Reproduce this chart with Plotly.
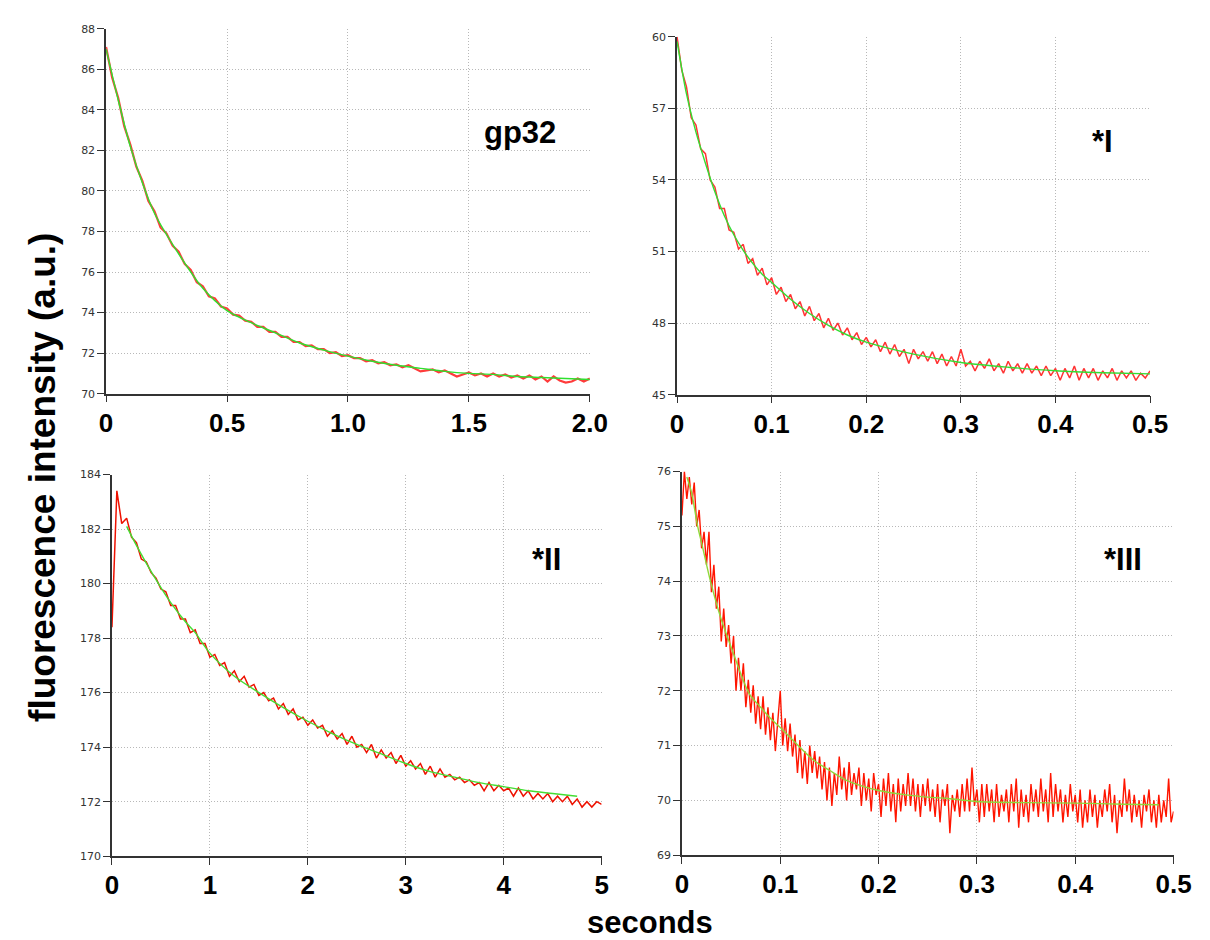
import plotly.graph_objects as go

W, H = 1210, 940


def fx(px):
    return px / W


def fy(py):
    return 1 - py / H


# ---------------- Panel 1: gp32 (0 - 2.0 s) ----------------
gp32_step = 0.025
gp32_red = [87.1, 85.6, 84.6, 83.2, 82.3, 81.2, 80.5, 79.5, 79.0, 78.2,
            77.9, 77.3, 77.0, 76.4, 76.1, 75.5, 75.3, 74.8, 74.7, 74.3,
            74.2, 73.9, 73.85, 73.6, 73.55, 73.3, 73.3, 73.05, 73.05, 72.8,
            72.8, 72.55, 72.55, 72.35, 72.38, 72.2, 72.2, 72.0, 72.05, 71.85,
            71.9, 71.75, 71.75, 71.6, 71.65, 71.5, 71.55, 71.4, 71.45, 71.3,
            71.4, 71.25, 71.1, 71.15, 71.2, 71.05, 71.15, 71.0, 70.85, 70.95,
            71.05, 70.9, 71.0, 70.85, 71.0, 70.85, 70.95, 70.8, 70.9, 70.75,
            70.9, 70.7, 70.85, 70.6, 70.85, 70.65, 70.55, 70.6, 70.75, 70.6,
            70.75]
gp32_fit_t = [0, 0.05, 0.1, 0.15, 0.2, 0.3, 0.4, 0.5, 0.6, 0.7, 0.8, 0.9, 1.0,
              1.1, 1.2, 1.3, 1.4, 1.5, 1.6, 1.7, 1.8, 1.9, 2.0]
gp32_fit = [87.0, 84.5, 82.2, 80.4, 78.9, 76.9, 75.2, 74.1, 73.5, 73.0, 72.5,
            72.15, 71.85, 71.6, 71.4, 71.25, 71.1, 71.0, 70.95, 70.85, 70.8,
            70.75, 70.7]

# ---------------- Panel 2: *I (0 - 0.5 s) ----------------
p1_step = 0.005
p1_red = [60.0, 58.6, 57.9, 56.6, 56.3, 55.3, 55.1, 54.0, 53.7, 52.8,
          52.8, 51.9, 51.8, 51.1, 51.3, 50.5, 50.7, 50.0, 50.3, 49.6,
          49.9, 49.2, 49.5, 48.9, 49.2, 48.6, 48.9, 48.3, 48.7, 48.1,
          48.4, 47.8, 48.2, 47.7, 48.0, 47.5, 47.8, 47.3, 47.6, 47.1,
          47.4, 47.0, 47.3, 46.8, 47.2, 46.7, 47.1, 46.6, 46.9, 46.3,
          46.9, 46.5, 46.8, 46.4, 46.8, 46.3, 46.7, 46.2, 46.6, 46.2,
          46.9, 46.2, 46.4, 46.0, 46.4, 46.1, 46.5, 46.0, 46.3, 45.9,
          46.4, 46.0, 46.3, 45.9, 46.3, 45.9, 46.2, 45.8, 46.2, 45.8,
          46.1, 45.6, 46.1, 45.7, 46.2, 45.6, 46.1, 45.7, 46.1, 45.6,
          46.0, 45.7, 46.1, 45.6, 46.0, 45.7, 46.0, 45.6, 45.9, 45.7,
          46.0]
p1_fit_t = [0, 0.01, 0.02, 0.03, 0.04, 0.05, 0.06, 0.07, 0.08, 0.09, 0.1,
            0.12, 0.14, 0.16, 0.18, 0.2, 0.25, 0.3, 0.35, 0.4, 0.45, 0.5]
p1_fit = [59.8, 57.6, 56.0, 54.7, 53.5, 52.5, 51.7, 51.05, 50.5, 50.05, 49.7,
          49.0, 48.4, 47.9, 47.5, 47.2, 46.7, 46.35, 46.15, 46.0, 45.92, 45.87]

# ---------------- Panel 3: *II (0 - 5 s) ----------------
p2_step = 0.05
p2_red = [178.4, 183.4, 182.2, 182.4, 181.7, 181.5, 180.9, 180.8, 180.4, 180.2,
          179.8, 179.7, 179.2, 179.2, 178.7, 178.7, 178.2, 178.3, 177.8, 177.8,
          177.3, 177.4, 177.0, 177.1, 176.6, 176.8, 176.4, 176.6, 176.2, 176.3,
          175.9, 176.0, 175.7, 175.8, 175.4, 175.6, 175.2, 175.4, 175.0, 175.1,
          174.8, 175.0, 174.7, 174.8, 174.4, 174.6, 174.3, 174.5, 174.1, 174.4,
          174.0, 174.1, 173.8, 174.1, 173.6, 173.9, 173.6, 173.8, 173.4, 173.7,
          173.3, 173.5, 173.2, 173.4, 173.0, 173.3, 172.9, 173.2, 172.9, 173.0,
          172.8, 172.9, 172.7, 172.8, 172.6, 172.7, 172.4, 172.7, 172.4, 172.6,
          172.4, 172.5, 172.2, 172.5, 172.2, 172.4, 172.1, 172.3, 172.1, 172.3,
          172.0, 172.2, 172.0, 172.2, 171.9, 172.1, 171.8, 172.0, 171.8, 172.0,
          171.9]
p2_fit_t = [0.15, 0.25, 0.35, 0.5, 0.6, 0.75, 0.85, 1.0, 1.25, 1.5, 1.75, 2.0,
            2.25, 2.5, 2.75, 3.0, 3.25, 3.5, 3.75, 4.0, 4.25, 4.5, 4.75]
p2_fit = [182.1, 181.4, 180.75, 179.85, 179.3, 178.6, 178.2, 177.45, 176.6,
          176.0, 175.45, 174.95, 174.5, 174.1, 173.75, 173.4, 173.1, 172.9,
          172.7, 172.55, 172.4, 172.3, 172.2]

# ---------------- Panel 4: *III (0 - 0.5 s) ----------------
p3_step = 0.0025
p3_red = [75.2, 76.0, 75.5, 75.9, 75.4, 75.8, 75.0, 75.3, 74.6, 74.9,
          74.3, 74.9, 73.8, 74.3, 73.5, 73.9, 72.9, 73.5, 72.8, 73.2,
          72.5, 73.0, 72.0, 72.6, 72.0, 72.5, 71.7, 72.2, 71.6, 72.1,
          71.4, 71.9, 71.3, 71.9, 71.2, 71.7, 71.1, 71.6, 70.9, 71.5,
          72.0, 71.0, 71.5, 70.9, 71.4, 70.8, 71.2, 70.5, 71.1, 70.4,
          70.9, 70.3, 71.0, 70.5, 70.9, 70.4, 70.8, 70.2, 70.7, 70.0,
          70.6, 69.9, 70.5, 70.1, 70.8, 70.2, 70.6, 70.0, 70.7, 70.1,
          70.5, 70.2, 70.6, 69.9, 70.5, 70.0, 70.4, 69.8, 70.5, 70.1,
          70.3, 69.7, 70.4, 69.9, 70.5, 69.8, 70.3, 69.6, 70.4, 69.8,
          70.3, 69.9, 70.5, 69.9, 70.4, 69.8, 70.3, 69.7, 70.3, 69.9,
          70.4, 69.8, 70.2, 69.7, 70.3, 69.6, 70.2, 69.9, 70.3, 69.4,
          70.1, 69.8, 70.2, 69.7, 70.3, 69.8, 70.4, 69.8, 70.6, 69.9,
          70.2, 69.6, 70.3, 69.7, 70.3, 69.8, 70.2, 69.6, 70.3, 69.7,
          70.1, 69.8, 70.2, 69.6, 70.3, 69.8, 70.4, 69.5, 70.2, 69.7,
          70.1, 69.6, 70.3, 69.8, 70.2, 69.7, 70.4, 69.8, 70.2, 69.6,
          70.5, 69.7, 70.3, 69.8, 70.2, 69.6, 70.1, 69.7, 70.3, 69.8,
          70.1, 69.6, 70.2, 69.5, 70.0, 69.6, 70.2, 69.7, 70.1, 69.5,
          70.0, 69.7, 70.2, 69.8, 70.3, 69.6, 70.1, 69.4, 70.0, 69.7,
          70.4, 69.8, 70.2, 69.6, 70.1, 69.7, 70.0, 69.5, 70.1, 69.8,
          70.2, 69.6, 70.0, 69.5, 70.1, 69.6, 70.0, 69.7, 70.4, 69.6,
          69.8]
p3_fit_t = [0.005, 0.01, 0.016, 0.02, 0.029, 0.04, 0.052, 0.06, 0.069, 0.08,
            0.09, 0.1, 0.12, 0.135, 0.15, 0.168, 0.185, 0.2, 0.228, 0.25,
            0.268, 0.3, 0.35, 0.4, 0.45, 0.485]
p3_fit = [75.9, 75.6, 75.0, 74.7, 74.0, 73.3, 72.7, 72.3, 71.93, 71.7, 71.5,
          71.33, 70.97, 70.72, 70.55, 70.36, 70.25, 70.18, 70.1, 70.06, 70.04,
          69.98, 69.96, 69.95, 69.93, 69.92]

# tick labels
x_ticks_1 = [0, 0.5, 1.0, 1.5, 2.0]
x_text_1 = ["0", "0.5", "1.0", "1.5", "2.0"]
x_ticks_2 = [0, 0.1, 0.2, 0.3, 0.4, 0.5]
x_text_2 = ["0", "0.1", "0.2", "0.3", "0.4", "0.5"]
x_ticks_3 = [0, 1, 2, 3, 4, 5]
x_text_3 = ["0", "1", "2", "3", "4", "5"]

panel_labels = ["gp32", "*I", "*II", "*III"]

# ---------------- layout geometry (pixels in the 1210x940 page) ----------------
panels = [
    dict(px=(93, 587), py=(15, 385), xr=[0, 2.0], yr=[70, 88], ydt=2,
         red=gp32_red, step=gp32_step, ft=gp32_fit_t, fv=gp32_fit, rw=2.2,
         xt=x_ticks_1, xtt=x_text_1, rc="#ff3b3b", gc="#2fe02f", lab=(516, 120)),
    dict(px=(676, 1159), py=(23, 386), xr=[0, 0.5], yr=[45, 60], ydt=3,
         red=p1_red, step=p1_step, ft=p1_fit_t, fv=p1_fit, rw=1.5,
         xt=x_ticks_2, xtt=x_text_2, rc="#ff3333", gc="#33dd33", lab=(1110, 129)),
    dict(px=(99, 599), py=(467, 854), xr=[0, 5], yr=[170, 184], ydt=2,
         red=p2_red, step=p2_step, ft=p2_fit_t, fv=p2_fit, rw=1.5,
         xt=x_ticks_3, xtt=x_text_3, rc="#ee1100", gc="#44dd33", lab=(543, 553)),
    dict(px=(681, 1183), py=(464, 853), xr=[0, 0.5], yr=[69, 76], ydt=1,
         red=p3_red, step=p3_step, ft=p3_fit_t, fv=p3_fit, rw=1.4,
         xt=x_ticks_2, xtt=x_text_2, rc="#ff1500", gc="#8fd83a", lab=(1131, 553)),
]

fig = go.Figure()
annotations = []
for i, p in enumerate(panels):
    n = "" if i == 0 else str(i + 1)
    xa, ya = "x" + n, "y" + n
    t = [round(k * p["step"], 5) for k in range(len(p["red"]))]
    fig.add_trace(go.Scatter(x=t, y=p["red"], mode="lines", xaxis=xa, yaxis=ya,
                             line=dict(color=p["rc"], width=p["rw"]), showlegend=False,
                             hoverinfo="skip"))
    fig.add_trace(go.Scatter(x=p["ft"], y=p["fv"], mode="lines", xaxis=xa, yaxis=ya,
                             line=dict(color=p["gc"], width=1.4, shape="spline",
                                       smoothing=0.8),
                             showlegend=False, hoverinfo="skip"))
    xdom = [fx(p["px"][0]), fx(p["px"][1])]
    ydom = [fy(p["py"][1]), fy(p["py"][0])]
    common = dict(showgrid=True, gridcolor="#b8b8b8", griddash="1px,2px", gridwidth=1,
                  zeroline=False, showline=True, linecolor="#333333", linewidth=1.5,
                  ticks="outside", ticklen=7, tickcolor="#333333", tickwidth=1.2)
    fig.layout["xaxis" + n] = dict(domain=xdom, range=p["xr"], anchor=ya,
                                   tickvals=p["xt"], ticktext=p["xtt"],
                                   tickfont=dict(family="Liberation Sans", size=26,
                                                 color="#000000", weight="bold"),
                                   ticklabelstandoff=-2, **common)
    yticks = list(range(p["yr"][0], p["yr"][1] + 1, p["ydt"]))
    fig.layout["yaxis" + n] = dict(domain=ydom, range=p["yr"], anchor=xa,
                                   tickvals=yticks, ticktext=[str(v) for v in yticks],
                                   tickfont=dict(family="DejaVu Sans", size=11,
                                                 color="#333333"),
                                   **common)
    annotations.append(dict(text=panel_labels[i], x=fx(p["lab"][0]),
                            y=fy(p["lab"][1]), xref="paper", yref="paper",
                            showarrow=False, xanchor="center", yanchor="middle",
                            font=dict(family="Liberation Sans", size=31,
                                      color="#000000", weight="bold")))

annotations.append(dict(text="fluorescence intensity (a.u.)", x=fx(28), y=fy(470),
                        xref="paper", yref="paper", showarrow=False, textangle=-90,
                        xanchor="center", yanchor="middle",
                        font=dict(family="Liberation Sans", size=37, color="#000000",
                                  weight="bold")))
annotations.append(dict(text="seconds", x=fx(648), y=0, borderpad=0,
                        xref="paper", yref="paper", showarrow=False,
                        xanchor="center", yanchor="bottom",
                        font=dict(family="Liberation Sans", size=31, color="#000000",
                                  weight="bold")))

fig.update_layout(width=W, height=H, autosize=False,
                  margin=dict(l=0, r=0, t=0, b=0, pad=0),
                  paper_bgcolor="white", plot_bgcolor="white",
                  annotations=annotations)

fig.write_html("out.html")
